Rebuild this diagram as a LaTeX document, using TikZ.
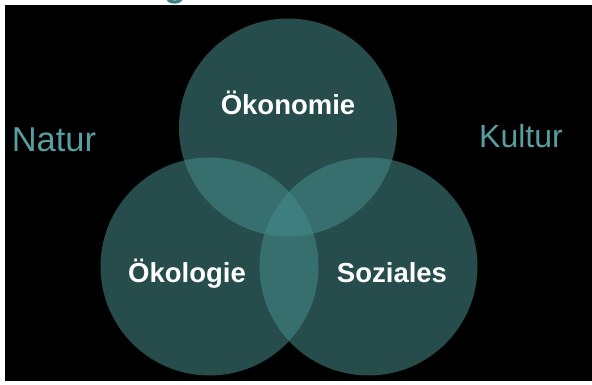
\documentclass[tikz,border=0pt]{standalone}
\usepackage{fontspec}
\setmainfont{Liberation Sans}
\definecolor{teal1}{RGB}{70,140,140}
\definecolor{labelteal}{RGB}{88,158,160}
\definecolor{titleteal}{RGB}{62,130,130}
\tikzset{
  x=1pt,y=-1pt,
  venn/.style={circle, minimum size=218pt, inner sep=0pt, fill=teal1, fill opacity=0.55, draw=none},
  vlabel/.style={text=white, font=\bfseries\fontsize{27.5}{30}\selectfont, anchor=base},
  side/.style={text=labelteal, font=\fontsize{33}{36}\selectfont, anchor=base},
}
\begin{document}
\begin{tikzpicture}
\useasboundingbox (0,0) rectangle (592,385);
\fill[white] (0,0) rectangle (592,385);
\fill[black] (5,5) rectangle (592,381);
\node[text=titleteal, font=\bfseries\fontsize{36}{40}\selectfont, anchor=base] (title) at (175,-3.5) {g};
\node[venn] (oek) at (288,127.5) {};
\node[venn] (eko) at (209.5,266.5) {};
\node[venn] (soz) at (368.5,266.5) {};
\node[vlabel] (l1) at (288,115) {Ökonomie};
\node[vlabel] (l2) at (187,282) {Ökologie};
\node[vlabel] (l3) at (392,282) {Soziales};
\node[side, font=\fontsize{34.5}{38}\selectfont] (natur) at (54,152) {Natur};
\node[side, font=\fontsize{32}{36}\selectfont] (kultur) at (521,148) {Kultur};
\end{tikzpicture}
\end{document}
